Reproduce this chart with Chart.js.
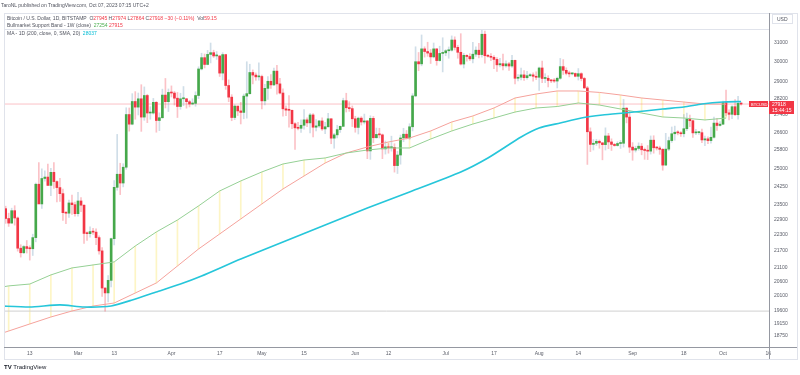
<!DOCTYPE html>
<html>
<head>
<meta charset="utf-8">
<script src="https://cdn.jsdelivr.net/npm/chart.js@4.4.0/dist/chart.umd.min.js"></script>
<style>
  body { margin: 0; background: #fff; font-family: Arial, "Liberation Sans", sans-serif; }
  #wrap { position: relative; width: 800px; height: 375px; overflow: hidden; }
  canvas { position: absolute; left: 0; top: 0; }
  .t { position: absolute; white-space: nowrap; font-size: 10px; line-height: 10px;
       transform: scale(.5); transform-origin: 0 0; color: #50535e; }
  .ln { position: absolute; background: #e0e3eb; }
  .r { color: #f23645; }
  .g { color: #4caf50; }
  .c { color: #00bcd4; }
</style>
</head>
<body>
<div id="wrap">
  <canvas id="c" width="800" height="375"></canvas>

  <div class="ln" style="left:4px;top:13px;width:793px;height:1px"></div>
  <div class="ln" style="left:4px;top:13px;width:1px;height:346px"></div>
  <div class="ln" style="left:797px;top:13px;width:1px;height:346px"></div>
  <div class="ln" style="left:4px;top:359px;width:794px;height:1px"></div>
  <div class="ln" style="left:4px;top:29px;width:765px;height:1px"></div>
  <div class="ln" style="left:769px;top:13px;width:1px;height:346px;background:#9598a1"></div>
  <div class="ln" style="left:4px;top:347px;width:793px;height:1px;background:#9598a1"></div>

  <div class="t" style="left:1px;top:2.5px">TaroNL published on TradingView.com, Oct 07, 2023 07:15 UTC+2</div>
  <div class="t" style="left:7px;top:15.5px">Bitcoin / U.S. Dollar, 1D, BITSTAMP&nbsp; O<span class="r">27945</span> H<span class="r">27974</span> L<span class="r">27864</span> C<span class="r">27918</span> <span class="r">−30 (−0.11%)</span>&nbsp; Vol<span class="r">59.15</span></div>
  <div class="t" style="left:7px;top:22.5px">Bullmarket Support Band - 1W (close)&nbsp; <span class="g">27254</span> <span class="r">27915</span></div>
  <div class="t" style="left:7px;top:30.5px">MA - 1D (200, close, 0, SMA, 20)&nbsp; <span class="c">28037</span></div>

  <div style="position:absolute;left:772px;top:14px;width:21px;height:10px;border:1px solid #e0e3eb;box-sizing:border-box"></div>
  <div class="t" style="left:777px;top:16.5px">USD</div>

  <div style="position:absolute;left:749px;top:101px;width:19px;height:6px;background:#f23645"></div>
  <div class="t" style="left:750.5px;top:101.8px;color:#fff;font-size:8px">BTCUSD</div>
  <div style="position:absolute;left:769px;top:101px;width:25px;height:13px;background:#f23645"></div>
  <div class="t" style="left:772px;top:102px;color:#fff">27918</div>
  <div class="t" style="left:772px;top:108px;color:#fff">15:44:15</div>

  <div class="t" style="left:4px;top:364px;color:#131722;font-size:12px;line-height:12px"><b>TV</b> TradingView</div>
</div>

<script>
// daily candles, one per day starting here
const firstCandle = '2023-02-04';

const opens = [
  // Feb 4-28
  23430, 23330, 22940, 22760, 23250, 22960, 21800, 21630, 21860, 21790, 21780, 22200, 24330, 23520, 24570, 24630, 24280, 24830, 24440, 24190, 23940, 23170, 23150, 23560, 23490,
  // Mar
  23130, 23640, 23470, 22360, 22350, 22430, 22410, 22200, 21700, 20360, 20190, 20630, 22160, 24200, 24750, 24380, 25050, 27420, 26970, 28040, 27770, 28170, 27300, 28330, 27490, 27490, 28000, 27140, 27270, 28350, 28030,
  // Apr
  28480, 28450, 28200, 27800, 28170, 28170, 28030, 27920, 27950, 28330, 29650, 30230, 29880, 30400, 30490, 30320, 30320, 29440, 30390, 28820, 28250, 27280, 27820, 27590, 27520, 28300, 28420, 29470, 29340, 29250,
  // May
  29270, 28070, 28680, 29030, 28850, 29540, 28900, 28450, 27690, 27630, 27620, 26990, 26800, 26780, 26920, 27170, 27030, 27400, 26830, 26890, 27120, 26750, 26850, 27220, 26330, 26480, 26720, 26870, 28080, 27740, 27700,
  // Jun
  27220, 26820, 27250, 27070, 27120, 25760, 27240, 26350, 26500, 26480, 25850, 25940, 25900, 25920, 25120, 25580, 26340, 26510, 26340, 26850, 28310, 30020, 29910, 30690, 30550, 30470, 30270, 30690, 30080, 30450,
  // Jul
  30480, 30590, 30620, 31160, 30770, 30510, 29900, 30350, 30290, 30170, 30410, 30620, 30390, 31470, 30330, 30300, 30250, 30140, 29860, 29920, 29810, 29910, 29800, 30090, 29180, 29230, 29350, 29210, 29310, 29350, 29280,
  // Aug
  29230, 29700, 29170, 29180, 29070, 29050, 29040, 29180, 29770, 29580, 29430, 29400, 29420, 29280, 29410, 29170, 28700, 26620, 26050, 26100, 26190, 26120, 26040, 26430, 26160, 26050, 26000, 26090, 26100, 27720, 27300,
  // Sep
  25930, 25800, 25870, 25970, 25810, 25780, 25750, 26240, 25900, 25890, 25830, 25140, 25840, 26220, 26530, 26600, 26570, 26530, 26760, 27210, 27130, 26570, 26580, 26580, 26250, 26300, 26220, 26370, 27020, 26910,
  // Oct 1-7
  26970, 27990, 27500, 27430, 27790, 27410, 27945
];
const highs = [
  23580, 23430, 23150, 23350, 23450, 23000, 21930, 21900, 22090, 21890, 22330, 24380, 25250, 24980, 24890, 25180, 25000, 25250, 24470, 24580, 24130, 23200, 23680, 23880, 23600,
  23990, 23780, 23480, 22420, 22610, 22560, 22540, 22270, 21820, 20370, 20800, 22180, 24480, 26500, 25220, 25200, 27740, 27730, 28420, 28520, 28450, 28860, 28750, 28390, 27790, 28190, 28040, 27500, 28640, 29170, 28650,
  28800, 28530, 28480, 28440, 28770, 28190, 28100, 28170, 28510, 29760, 30460, 30420, 30610, 31000, 30620, 30550, 30330, 30490, 30410, 29100, 28370, 27890, 27820, 28000, 28400, 30020, 29890, 29600, 29450, 29960,
  29340, 28880, 29270, 29370, 29690, 29840, 29180, 28660, 27830, 28330, 27630, 27040, 27050, 27170, 27650, 27260, 27480, 27470, 27180, 27150, 27270, 27060, 27480, 27220, 26550, 26920, 26890, 28200, 28440, 28030, 27830,
  27340, 27300, 27320, 27440, 27140, 27360, 27330, 26790, 26780, 26520, 26200, 26090, 26420, 26080, 25740, 26470, 26780, 26680, 26990, 28420, 30800, 30500, 31430, 30800, 31040, 30660, 31000, 30700, 30830, 31280,
  30650, 30790, 31380, 31330, 30880, 31500, 30450, 30380, 30440, 31030, 30800, 30980, 31820, 31640, 30400, 30440, 30340, 30240, 30190, 30420, 30060, 29990, 30350, 30100, 29370, 29690, 29570, 29530, 29410, 29450, 29510,
  29740, 30050, 29410, 29310, 29110, 29170, 29240, 30190, 30130, 29710, 29540, 29460, 29450, 29670, 29460, 29230, 28780, 26800, 26270, 26280, 26250, 26130, 26800, 26550, 26300, 26100, 26170, 26230, 28140, 27750, 27560,
  26130, 25970, 26120, 26090, 25890, 26000, 26430, 26440, 25940, 25970, 25870, 26550, 26380, 26840, 26880, 26670, 26630, 27420, 27490, 27390, 27160, 26730, 26640, 26740, 26430, 26390, 26840, 27300, 27240, 27090,
  28060, 28590, 27640, 27840, 28130, 28290, 27974
];
const lows = [
  23250, 22750, 22630, 22750, 22680, 21690, 21470, 21600, 21620, 21360, 21530, 22040, 23530, 23340, 24460, 24280, 23860, 24150, 23600, 23620, 22860, 22740, 22980, 23100, 23030,
  23030, 23210, 21980, 22090, 22220, 22320, 21930, 21580, 20070, 19570, 19880, 20400, 21920, 24080, 23900, 24220, 24960, 26650, 26940, 27200, 27400, 26640, 27150, 27040, 27200, 27440, 26600, 26670, 27250, 27730, 27560,
  28260, 27870, 27280, 27670, 27840, 27720, 27780, 27880, 27810, 28180, 29600, 29700, 29860, 29960, 30240, 30140, 29270, 29100, 28630, 28030, 27130, 27180, 27370, 26980, 27220, 27250, 28390, 28900, 29080, 29080,
  27680, 27880, 28140, 28680, 28810, 28390, 28410, 27340, 27370, 26830, 26760, 25830, 26700, 26590, 26740, 26860, 26570, 26390, 26660, 26820, 26680, 26530, 26830, 26080, 25880, 26340, 26590, 26860, 27540, 27570, 26860,
  26600, 26520, 26930, 26980, 25420, 25390, 26130, 26330, 26340, 25420, 25620, 25660, 25750, 24840, 24780, 25180, 26170, 26290, 26270, 26660, 28270, 29560, 29810, 30260, 30300, 29930, 30220, 29840, 30050, 29500,
  30330, 30200, 30570, 30630, 30200, 29850, 29700, 30050, 30080, 29960, 30290, 30220, 30250, 29940, 30260, 30080, 29670, 29530, 29760, 29600, 29740, 29570, 29730, 28900, 29050, 29100, 29070, 29130, 29260, 29040, 29110,
  28580, 28960, 28960, 28750, 28960, 28970, 28700, 29130, 29370, 29350, 29250, 29350, 29250, 29090, 29050, 28680, 25170, 25730, 25800, 26000, 25880, 25370, 25800, 25860, 25780, 25970, 25970, 25870, 25930, 27030, 25690,
  25350, 25710, 25790, 25590, 25390, 25380, 25620, 25660, 25800, 25610, 24920, 25130, 25770, 26140, 26240, 26480, 26410, 26390, 26670, 26860, 26360, 26490, 26500, 26130, 25990, 26080, 26100, 26330, 26680, 26880,
  26950, 27350, 27170, 27220, 27380, 27200, 27864
];
const closes = [
  23330, 22940, 22760, 23250, 22960, 21800, 21630, 21860, 21790, 21780, 22200, 24330, 23520, 24570, 24630, 24280, 24830, 24440, 24190, 23940, 23170, 23150, 23560, 23490, 23130,
  23640, 23470, 22360, 22350, 22430, 22410, 22200, 21700, 20360, 20190, 20630, 22160, 24200, 24750, 24380, 25050, 27420, 26970, 28040, 27770, 28170, 27300, 28330, 27490, 27490, 28000, 27140, 27270, 28350, 28030, 28480,
  28450, 28200, 27800, 28170, 28170, 28030, 27920, 27950, 28330, 29650, 30230, 29880, 30400, 30490, 30320, 30320, 29440, 30390, 28820, 28250, 27280, 27820, 27590, 27520, 28300, 28420, 29470, 29340, 29250, 29270,
  28070, 28680, 29030, 28850, 29540, 28900, 28450, 27690, 27630, 27620, 26990, 26800, 26780, 26920, 27170, 27030, 27400, 26830, 26890, 27120, 26750, 26850, 27220, 26330, 26480, 26720, 26870, 28080, 27740, 27700, 27220,
  26820, 27250, 27070, 27120, 25760, 27240, 26350, 26500, 26480, 25850, 25940, 25900, 25920, 25120, 25580, 26340, 26510, 26340, 26850, 28310, 30020, 29910, 30690, 30550, 30470, 30270, 30690, 30080, 30450, 30480,
  30590, 30620, 31160, 30770, 30510, 29900, 30350, 30290, 30170, 30410, 30620, 30390, 31470, 30330, 30300, 30250, 30140, 29860, 29920, 29810, 29910, 29800, 30090, 29180, 29230, 29350, 29210, 29310, 29350, 29280, 29230,
  29700, 29170, 29180, 29070, 29050, 29040, 29180, 29770, 29580, 29430, 29400, 29420, 29280, 29410, 29170, 28700, 26620, 26050, 26100, 26190, 26120, 26040, 26430, 26160, 26050, 26000, 26090, 26100, 27720, 27300, 25930,
  25800, 25870, 25970, 25810, 25780, 25750, 26240, 25900, 25890, 25830, 25140, 25840, 26220, 26530, 26600, 26570, 26530, 26760, 27210, 27130, 26570, 26580, 26580, 26250, 26300, 26220, 26370, 27020, 26910, 26970,
  27990, 27500, 27430, 27790, 27410, 27950, 27918
];

// bull market support band, weekly (mondays)
const bandWeeks = ['2023-01-30', '2023-02-06', '2023-02-13', '2023-02-20', '2023-02-27', '2023-03-06', '2023-03-13', '2023-03-20', '2023-03-27',
  '2023-04-03', '2023-04-10', '2023-04-17', '2023-04-24', '2023-05-01', '2023-05-08', '2023-05-15', '2023-05-22', '2023-05-29',
  '2023-06-05', '2023-06-12', '2023-06-19', '2023-06-26', '2023-07-03', '2023-07-10', '2023-07-17', '2023-07-24', '2023-07-31',
  '2023-08-07', '2023-08-14', '2023-08-21', '2023-08-28', '2023-09-04', '2023-09-11', '2023-09-18', '2023-09-25', '2023-10-02'];
const bandGreen = [20310, 20435, 20500, 20823, 21074, 21183, 21292, 21883, 22417, 22880, 23440, 24050, 24466, 24847, 25189, 25362, 25450, 25668,
  25800, 25891, 25891, 26291, 26657, 26977, 27256, 27537, 27729, 27800, 27968, 27870, 27682, 27491, 27305, 27256, 27166, 27254];
const bandRed = [18687, 18913, 19143, 19373, 19573, 19741, 19843, 20187, 20538, 21145, 21771, 22339, 22922, 23520, 24131, 24676, 25231, 25668,
  25935, 26158, 26337, 26657, 27072, 27352, 27729, 28208, 28403, 28551, 28551, 28480, 28355, 28208, 28111, 28015, 27918, 27915];

// 200 day SMA
const maDates = ['2023-02-03', '2023-02-13', '2023-02-23', '2023-03-03', '2023-03-12', '2023-03-19', '2023-03-27', '2023-04-04', '2023-04-11',
  '2023-04-24', '2023-05-08', '2023-05-22', '2023-06-05', '2023-06-19', '2023-07-06', '2023-07-15', '2023-07-26', '2023-08-01', '2023-08-08',
  '2023-08-15', '2023-08-22', '2023-08-29', '2023-09-05', '2023-09-11', '2023-09-18', '2023-09-24', '2023-10-01', '2023-10-07'];
const maValues = [19743, 19709, 19777, 19709, 19743, 19947, 20223, 20502, 20786, 21401, 22034, 22686, 23358, 24008, 24846, 25449, 26383, 26794, 27024,
  27257, 27398, 27492, 27587, 27682, 27776, 27920, 28016, 28037];

const lastPrice = 27918;
const markLevel = 19570; // horizontal line drawn at the march low

const yTicks = [31000, 30000, 29000, 28200, 27400, 26600, 25800, 25000, 24250, 23500, 22900, 22300, 21700, 21100, 20600, 20100, 19600, 19150, 18750];
const xTickDates = ['2023-02-13', '2023-03-01', '2023-03-13', '2023-04-01', '2023-04-17', '2023-05-01', '2023-05-15', '2023-06-01', '2023-06-12',
  '2023-07-01', '2023-07-17', '2023-08-01', '2023-08-14', '2023-09-01', '2023-09-18', '2023-10-01', '2023-10-16'];
const xTickLabels = ['13', 'Mar', '13', 'Apr', '17', 'May', '15', 'Jun', '12', 'Jul', '17', 'Aug', '14', 'Sep', '18', 'Oct', '16'];

function doy(s) {
  const p = s.split('-').map(Number);
  return (Date.UTC(p[0], p[1] - 1, p[2]) - Date.UTC(2023, 0, 1)) / 864e5;
}

const xMin = doy('2023-02-04') + 0.45;
const xMax = doy('2023-10-16') + 0.26;

const UP = '#45a84a', DOWN = '#f23645';
const UP_WICK = 'rgba(120,160,190,0.35)', DOWN_WICK = 'rgba(242,54,69,0.3)';

const day0 = doy(firstCandle);
let wicks = [], bodies = [], wickCol = [], bodyCol = [];
for (let i = 0; i < closes.length; i++) {
  const up = closes[i] >= opens[i];
  wicks.push({ x: day0 + i, y: [lows[i], highs[i]] });
  bodies.push({ x: day0 + i, y: [opens[i], closes[i]] });
  wickCol.push(up ? UP_WICK : DOWN_WICK);
  bodyCol.push(up ? UP : DOWN);
}

const bandFill = bandWeeks.map((d, i) => ({ x: doy(d), y: [bandGreen[i], bandRed[i]] }));
const greenLine = bandWeeks.map((d, i) => ({ x: doy(d), y: bandGreen[i] }));
const redLine = bandWeeks.map((d, i) => ({ x: doy(d), y: bandRed[i] }));
const maLine = maDates.map((d, i) => ({ x: doy(d), y: maValues[i] }));

new Chart(document.getElementById('c'), {
  type: 'bar',
  data: {
    datasets: [
      { data: bandFill, backgroundColor: 'rgba(250,225,90,0.35)', barThickness: 1, grouped: false, order: 7 },
      { type: 'line', data: [{ x: xMin, y: markLevel }, { x: xMax, y: markLevel }], borderColor: '#d0d0d0', borderWidth: 1, pointRadius: 0, order: 6 },
      { type: 'line', data: [{ x: xMin, y: lastPrice }, { x: xMax, y: lastPrice }], borderColor: 'rgba(242,54,69,0.3)', borderWidth: 1, pointRadius: 0, order: 5 },
      { data: wicks, backgroundColor: wickCol, barThickness: 1, grouped: false, order: 4 },
      { data: bodies, backgroundColor: bodyCol, barThickness: 2, minBarLength: 1, grouped: false, order: 3 },
      { type: 'line', data: greenLine, borderColor: '#95d095', borderWidth: 1, pointRadius: 0, tension: 0, order: 2 },
      { type: 'line', data: redLine, borderColor: '#f5a29c', borderWidth: 1, pointRadius: 0, tension: 0, order: 2 },
      { type: 'line', data: maLine, borderColor: '#26c6da', borderWidth: 1.7, pointRadius: 0, tension: 0.2, order: 1 }
    ]
  },
  options: {
    responsive: false,
    animation: false,
    devicePixelRatio: 1,
    layout: { padding: { left: 4, top: 29, right: 0, bottom: 16 } },
    plugins: { legend: { display: false }, tooltip: { enabled: false } },
    scales: {
      x: {
        type: 'linear', min: xMin, max: xMax, offset: false,
        grid: { display: false, drawTicks: false }, border: { display: false },
        afterBuildTicks: s => { s.ticks = xTickDates.map(d => ({ value: doy(d) })); },
        afterFit: s => { s.height = 12; },
        ticks: { autoSkip: false, maxRotation: 0, padding: 3.5, color: '#5d606b',
          font: { size: 5, family: 'Arial' }, callback: (v, i) => xTickLabels[i] }
      },
      y: {
        type: 'logarithmic', position: 'right', min: 18401, max: 31754,
        grid: { display: false, drawTicks: false }, border: { display: false },
        afterBuildTicks: s => { s.ticks = yTicks.map(v => ({ value: v })); },
        afterFit: s => { s.width = 31; },
        ticks: { autoSkip: false, padding: 5, color: '#5d606b',
          font: { size: 5, family: 'Arial' }, callback: v => String(v) }
      }
    }
  }
});
</script>
</body>
</html>
